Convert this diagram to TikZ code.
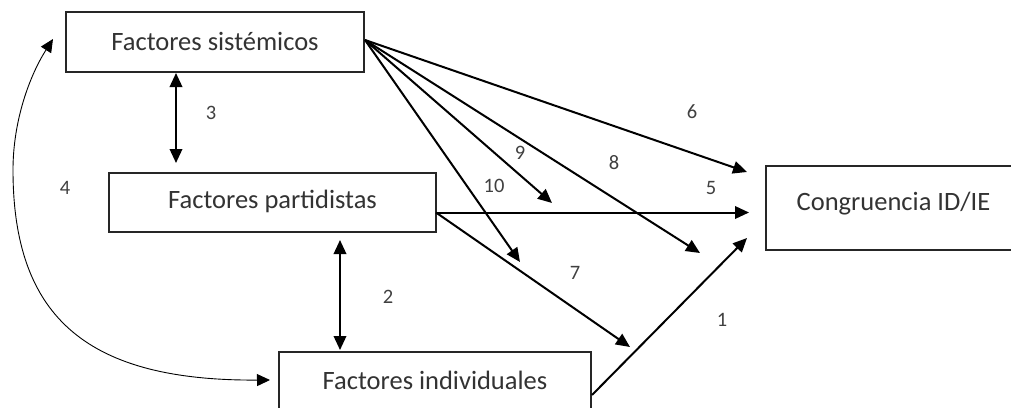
\documentclass[tikz,border=0pt]{standalone}
\usepackage{fontspec}
\setmainfont{Carlito}
\usetikzlibrary{arrows.meta}
\begin{document}
\begin{tikzpicture}[x=1pt,y=-1pt,
  box/.style={draw=black!85, line width=1.5pt, inner sep=0pt, text height=17pt,
    font=\fontsize{26.5}{30}\selectfont, text=black!80},
  lab/.style={inner sep=0pt, font=\fontsize{20.5}{23}\selectfont, text=black!75},
  arr/.style={line width=2pt, -{Triangle[length=14pt,width=12.5pt]}},
  dblarr/.style={line width=2pt, {Triangle[length=14pt,width=12.5pt]}-{Triangle[length=14pt,width=12.5pt]}},
  thinarr/.style={line width=0.9pt, {Triangle[length=13pt,width=12pt]}-{Triangle[length=13pt,width=12pt]}}]
\useasboundingbox (0,0) rectangle (1011,407);
\clip (0,0) rectangle (1011,407);
\fill[white] (0,0) rectangle (1011,407);

% boxes
\node[box, minimum width=298pt, minimum height=60pt, text depth=0pt] (b1) at (215,42) {Factores sistémicos};
\node[box, minimum width=327pt, minimum height=59pt, text depth=5pt] (b2) at (272.5,202.5) {Factores partidistas};
\node[box, minimum width=312pt, minimum height=60pt, text depth=3pt] (b3) at (435,382) {Factores individuales};
\node[box, minimum width=255pt, minimum height=84pt, text depth=13pt] (b4) at (893.5,208) {Congruencia ID/IE};

% connector end points
\coordinate (s1) at (365,40);
\coordinate (s2) at (436,212.5);
\coordinate (s3) at (592,395);
\coordinate (e6) at (747,172);
\coordinate (e8) at (700,253);
\coordinate (e9) at (552,203);
\coordinate (e10) at (520,262);
\coordinate (e5) at (749,212.5);
\coordinate (e7) at (630,347);
\coordinate (e1) at (747,238);
\coordinate (c3a) at (176,73);
\coordinate (c3b) at (176,163);
\coordinate (c2a) at (340,240);
\coordinate (c2b) at (340,350);
\coordinate (c4a) at (53,39);
\coordinate (c4m) at (13,170);
\coordinate (c4b) at (270,380);

% connectors
\draw[arr] (s1) -- (e6);
\draw[arr] (s1) -- (e8);
\draw[arr] (s1) -- (e9);
\draw[arr] (s1) -- (e10);
\draw[arr] (s2) -- (e5);
\draw[arr] (s2) -- (e7);
\draw[arr] (s3) -- (e1);
\draw[dblarr] (c3a) -- (c3b);
\draw[dblarr] (c2a) -- (c2b);
\draw[thinarr] (c4a) .. controls (30,75) and (13,120) .. (c4m)
  .. controls (13,320) and (90,381) .. (c4b);

% labels
\node[lab] (l3) at (211,113) {3};
\node[lab] (l4) at (65,188) {4};
\node[lab] (l2) at (388,297) {2};
\node[lab] (l6) at (692,112) {6};
\node[lab] (l8) at (614,163) {8};
\node[lab] (l9) at (520,153) {9};
\node[lab] (l10) at (494,186) {10};
\node[lab] (l5) at (711,188) {5};
\node[lab] (l7) at (575,273) {7};
\node[lab] (l1) at (722,320) {1};
\end{tikzpicture}
\end{document}
